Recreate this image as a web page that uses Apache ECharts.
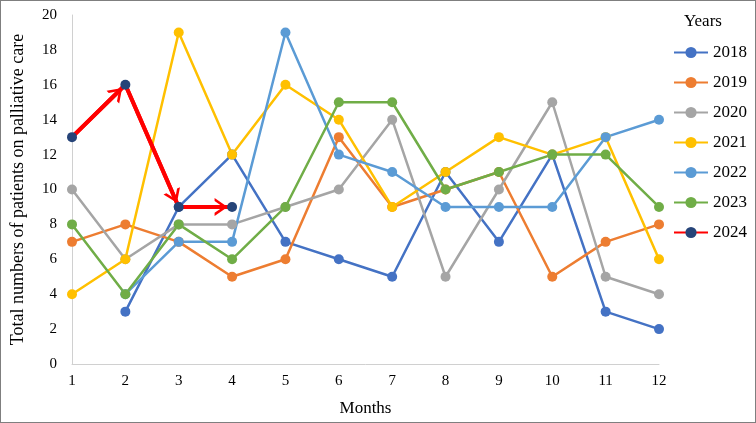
<!DOCTYPE html>
<html>
<head>
<meta charset="utf-8">
<script src="https://cdn.jsdelivr.net/npm/echarts@6/dist/echarts.min.js"></script>
<style>
html,body{margin:0;padding:0;background:#fff;}
#c{width:756px;height:423px;box-sizing:border-box;border:1px solid #7f7f7f;}
</style>
</head>
<body>
<div id="c"></div>
<script>
const months = ['1','2','3','4','5','6','7','8','9','10','11','12'];
const yTicks = [0,2,4,6,8,10,12,14,16,18,20];
const y2018 = [null,3,9,12,7,6,5,11,7,12,3,2];
const y2019 = [7,8,7,5,6,13,9,10,11,5,7,8];
const y2020 = [10,6,8,8,9,10,14,5,10,15,5,4];
const y2021 = [4,6,19,12,16,14,9,11,13,12,13,6];
const y2022 = [null,4,7,7,19,12,11,9,9,9,13,14];
const y2023 = [8,4,8,6,9,15,15,10,11,12,12,9];
const y2024 = [13,16,9,9,null,null,null,null,null,null,null,null];
const seriesNames = ['2018','2019','2020','2021','2022','2023','2024'];
const seriesData = [y2018,y2019,y2020,y2021,y2022,y2023,y2024];
const colors = ['#4472C4','#ED7D31','#A5A5A5','#FFC000','#5B9BD5','#70AD47','#264478'];

const font = 'Liberation Serif';
const chart = echarts.init(document.getElementById('c'));

function arrowSegments(vals){
  const segs = [];
  for (let i = 0; i < vals.length - 1; i++) {
    if (vals[i] != null && vals[i+1] != null) {
      segs.push([{coord:[months[i], vals[i]]},{coord:[months[i+1], vals[i+1]]}]);
    }
  }
  return segs;
}

const series = seriesNames.map((name, k) => {
  const is24 = name === '2024';
  const s = {
    name: name,
    type: 'line',
    data: seriesData[k],
    symbol: 'circle',
    symbolSize: 10,
    connectNulls: false,
    itemStyle: {color: colors[k]},
    lineStyle: {color: is24 ? '#FF0000' : colors[k], width: is24 ? 4 : 2.5},
    z: is24 ? 10 : 2,
    animation: false
  };
  if (is24) {
    s.markLine = {
      silent: true,
      animation: false,
      symbol: ['none', 'path://M0,16 L10,0 L20,16 L16.5,16 L10,5.5 L3.5,16 Z'],
      symbolSize: [18, 13],
      symbolOffset: [0, [0, 11]],
      label: {show: false},
      lineStyle: {color: '#FF0000', width: 4, type: 'solid'},
      emphasis: {disabled: true},
      data: arrowSegments(seriesData[k])
    };
  }
  return s;
});

chart.setOption({
  animation: false,
  title: {
    text: 'Years',
    left: 678,
    top: 7,
    textStyle: {fontFamily: font, fontSize: 17, fontWeight: 'normal', color: '#000'}
  },
  legend: {
    orient: 'vertical',
    left: 672,
    top: 43,
    padding: 0,
    itemWidth: 34,
    itemHeight: 14,
    itemGap: 13,
    data: seriesNames,
    textStyle: {fontFamily: font, fontSize: 17, color: '#000'}
  },
  grid: {left: 70, right: 96, top: 14, bottom: 57, containLabel: false},
  xAxis: {
    type: 'category',
    data: months,
    boundaryGap: false,
    name: 'Months',
    nameLocation: 'middle',
    nameGap: 36,
    nameTextStyle: {fontFamily: font, fontSize: 17, color: '#000'},
    axisLine: {lineStyle: {color: '#d0d0d0', width: 1}},
    axisTick: {show: false},
    axisLabel: {fontFamily: font, fontSize: 15, color: '#000', margin: 10},
    splitLine: {show: false}
  },
  yAxis: {
    type: 'value',
    min: yTicks[0],
    max: yTicks[yTicks.length-1],
    interval: 2,
    name: 'Total numbers of patients on palliative care',
    nameLocation: 'middle',
    nameGap: 45,
    nameTextStyle: {fontFamily: font, fontSize: 18, color: '#000'},
    axisLine: {show: true, lineStyle: {color: '#d0d0d0', width: 1}},
    axisTick: {show: false},
    axisLabel: {fontFamily: font, fontSize: 15, color: '#000', margin: 15},
    splitLine: {show: false}
  },
  series: series
});
</script>
</body>
</html>
